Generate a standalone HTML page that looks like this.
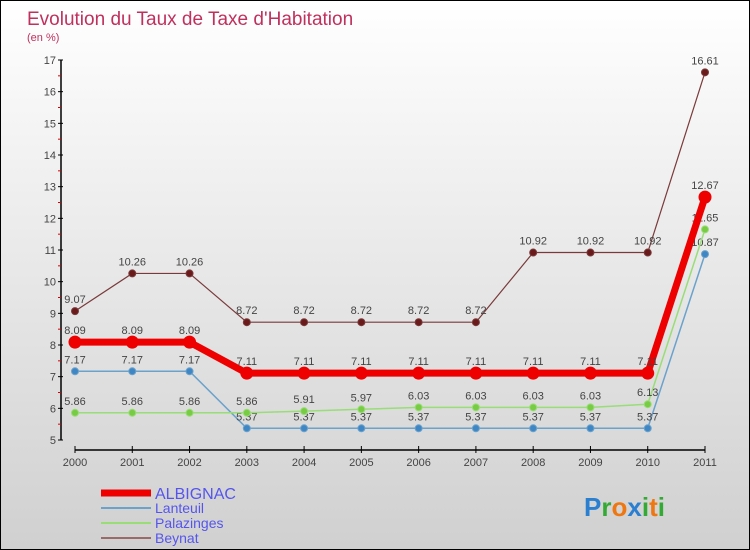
<!DOCTYPE html>
<html><head><meta charset="utf-8"><style>
html,body{margin:0;padding:0}
body{width:750px;height:550px;overflow:hidden;font-family:"Liberation Sans",sans-serif}
#wrap{position:relative;width:748px;height:548px;border:1px solid #000;background:linear-gradient(#ffffff,#d0d0d0)}
</style></head><body>
<div id="wrap">
<svg id="chart" width="748" height="548" style="position:absolute;left:0;top:0">
<text x="26" y="24" font-size="19" fill="#c0305e">Evolution du Taux de Taxe d'Habitation</text>
<text x="26" y="40" font-size="11" fill="#c0305e">(en %)</text>
</svg>
</div>
<script>
const years=["2000","2001","2002","2003","2004","2005","2006","2007","2008","2009","2010","2011"];
const albignac=[8.09,8.09,8.09,7.11,7.11,7.11,7.11,7.11,7.11,7.11,7.11,12.67];
const lanteuil=[7.17,7.17,7.17,5.37,5.37,5.37,5.37,5.37,5.37,5.37,5.37,10.87];
const palazinges=[5.86,5.86,5.86,5.86,5.91,5.97,6.03,6.03,6.03,6.03,6.13,11.65];
const beynat=[9.07,10.26,10.26,8.72,8.72,8.72,8.72,8.72,10.92,10.92,10.92,16.61];
const yTicks=[5,6,7,8,9,10,11,12,13,14,15,16,17];
const NS="http://www.w3.org/2000/svg";
const svg=document.getElementById('chart');
const x=i=>74+i*(630/11);
const y=v=>439-(v-5)*(380/12);
function mk(t,a,p){const e=document.createElementNS(NS,t);for(const k in a)e.setAttribute(k,a[k]);(p||svg).appendChild(e);return e;}
let ax=mk('line',{x1:60,y1:y(17),x2:60,y2:y(5),stroke:'#000','stroke-width':1.5});


yTicks.forEach(v=>{
 mk('line',{x1:57,y1:y(v),x2:62,y2:y(v),stroke:'#000'});
 if(v<17) mk('line',{x1:57,y1:y(v+0.5),x2:60,y2:y(v+0.5),stroke:'#d00'});
 const t=mk('text',{x:55,y:y(v)+4,'font-size':11,'text-anchor':'end',fill:'#444'});t.textContent=v;
 
 
});
let xa=mk('line',{x1:74,y1:449,x2:704,y2:449,stroke:'#000','stroke-width':1.5});


years.forEach((yr,i)=>{
 mk('line',{x1:x(i),y1:445,x2:x(i),y2:452,stroke:'#000'});
 const t=mk('text',{x:x(i),y:465,'font-size':11,'text-anchor':'middle',fill:'#444'});t.textContent=yr;
 
 
});
function series(data,color,w,r,dot,name,labels){
 const g=mk('g',{});
 
 
 mk('polyline',{points:data.map((v,i)=>x(i)+','+y(v)).join(' '),fill:'none',stroke:color,'stroke-width':w,'stroke-linejoin':'round'},g);
 data.forEach((v,i)=>{
  const c=mk('circle',{cx:x(i),cy:y(v),r:r,fill:dot,stroke:color,'stroke-width':1},g);
  
  
  if(labels){const t=mk('text',{x:x(i),y:y(v)-8,'font-size':11,'text-anchor':'middle',fill:'#444'},g);t.textContent=v.toFixed(2).replace(/0$/,'').replace(/\.$/,'');
   
   }
 });
}
series(lanteuil,'#6aa2cc',1.5,3.5,'#3f86c4','lanteuil',true);
series(palazinges,'#99dd77',1.5,3.5,'#77cc44','palazinges',true);
series(beynat,'#7a3a3a',1.2,3.5,'#6a1a1a','beynat',true);
series(albignac,'#ee0000',7,6,'#ee0000','albignac',true);
const legend=[["ALBIGNAC","#ee0000",7],["Lanteuil","#6aa2cc",2],["Palazinges","#99dd77",2],["Beynat","#9a6a6a",2]];
legend.forEach((l,i)=>{
 const ly=492+i*15;
 mk('line',{x1:100,y1:ly,x2:150,y2:ly,stroke:l[1],'stroke-width':l[2]});
 const t=mk('text',{x:154,y:ly+(i==0?6:5),'font-size':i==0?16:14,fill:'#5555ee'});t.textContent=l[0];
 
 
});
const logo=mk('text',{x:583,y:515,'font-size':26,'font-weight':'bold'});


[["P","#2a7fd0"],["r","#33aa33"],["o","#ee7711"],["x","#2a7fd0"],["i","#33aa33"],["t","#ee7711"],["i","#33aa33"]].forEach(c=>{const s=mk('tspan',{fill:c[1]},logo);s.textContent=c[0];});
</script>
</body></html>
